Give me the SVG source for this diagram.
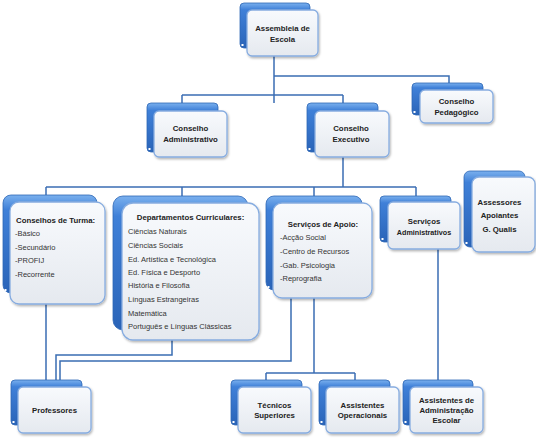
<svg xmlns="http://www.w3.org/2000/svg" width="536" height="439" viewBox="0 0 536 439">
<defs>
<linearGradient id="gBack" x1="0" y1="0" x2="0" y2="1">
<stop offset="0" stop-color="#7ab0ee"/>
<stop offset="0.15" stop-color="#3f80d8"/>
<stop offset="1" stop-color="#2a64b8"/>
</linearGradient>
<linearGradient id="gFront" x1="0" y1="0" x2="0" y2="1">
<stop offset="0" stop-color="#f8fafd"/>
<stop offset="1" stop-color="#e5e9ef"/>
</linearGradient>
<filter id="sh" x="-10%" y="-10%" width="125%" height="130%">
<feDropShadow dx="1" dy="1.5" stdDeviation="1.2" flood-color="#000" flood-opacity="0.3"/>
</filter>
</defs>
<style>
.back{fill:url(#gBack);stroke:#2f67b5;stroke-width:0.8}
.front{fill:url(#gFront);stroke:#86ace0;stroke-width:1.3;filter:url(#sh)}
.dot{fill:#fff}
.t{font-family:"Liberation Sans",Arial,sans-serif;font-size:7.8px;font-weight:bold;fill:#222;text-anchor:middle}
.i{font-family:"Liberation Sans",Arial,sans-serif;font-size:7.5px;fill:#333}
.b{font-family:"Liberation Sans",Arial,sans-serif;font-size:7.8px;font-weight:bold;fill:#222}
.c{fill:none;stroke:#3a6db3;stroke-width:1.5}
</style>
<rect width="536" height="439" fill="#fff"/>
<g id="connectors" class="c">
<path d="M274,56 V103"/>
<path d="M274,76 H449 V84"/>
<path d="M182,95 H343"/>
<path d="M182,95 V103"/>
<path d="M343,95 V103"/>
<path d="M343,150 V187"/>
<path d="M46,187 H416"/>
<path d="M46,187 V196"/>
<path d="M182,187 V196"/>
<path d="M314,187 V196"/>
<path d="M416,187 V196"/>
<path d="M46,300 V380"/>
<path d="M172,335 V355 H56 V380"/>
<path d="M291,295 V361 H60 V380"/>
<path d="M314,295 V373"/>
<path d="M266,373 H355"/>
<path d="M266,373 V380"/>
<path d="M355,373 V380"/>
<path d="M438,245 V380"/>
</g>
<g id="assembleia">
<rect class="back" x="240" y="3" width="70" height="45" rx="4"/>
<rect class="dot" x="241.5" y="44" width="2" height="2"/>
<rect class="front" x="247" y="10" width="71" height="46" rx="5"/>
<text class="t" x="282.5" y="31">Assembleia de</text>
<text class="t" x="282.5" y="42">Escola</text>
</g>
<g id="conselho-pedagogico">
<rect class="back" x="412" y="83" width="71" height="32" rx="4"/>
<rect class="dot" x="413.5" y="111" width="2" height="2"/>
<rect class="front" x="420" y="90" width="73" height="33" rx="5"/>
<text class="t" x="456.5" y="104">Conselho</text>
<text class="t" x="456.5" y="115">Pedagógico</text>
</g>
<g id="conselho-administrativo">
<rect class="back" x="147" y="103" width="71" height="49" rx="4"/>
<rect class="dot" x="148.5" y="148" width="2" height="2"/>
<rect class="front" x="154" y="111" width="73" height="46" rx="5"/>
<text class="t" x="190.5" y="131">Conselho</text>
<text class="t" x="190.5" y="142">Administrativo</text>
</g>
<g id="conselho-executivo">
<rect class="back" x="307" y="103" width="71" height="49" rx="4"/>
<rect class="dot" x="308.5" y="148" width="2" height="2"/>
<rect class="front" x="315" y="111" width="74" height="46" rx="5"/>
<text class="t" x="351" y="131">Conselho</text>
<text class="t" x="351" y="142">Executivo</text>
</g>
<g id="conselhos-turma">
<rect class="back" x="3" y="195" width="94" height="98" rx="8"/>
<rect class="dot" x="4.5" y="289" width="2" height="2"/>
<rect class="front" x="10" y="202" width="95" height="102" rx="9"/>
<text class="b" x="16" y="223">Conselhos de Turma:</text>
<text class="i" x="15" y="236">-Básico</text>
<text class="i" x="15" y="250">-Secundário</text>
<text class="i" x="15" y="263">-PROFIJ</text>
<text class="i" x="15" y="277">-Recorrente</text>
</g>
<g id="departamentos">
<rect class="back" x="113" y="196" width="135" height="134" rx="10"/>
<rect class="front" x="122" y="203" width="137" height="137" rx="11"/>
<text class="b" x="190.5" y="220" text-anchor="middle">Departamentos Curriculares:</text>
<text class="i" x="128" y="234">Ciências Naturais</text>
<text class="i" x="128" y="248">Ciências Sociais</text>
<text class="i" x="128" y="262">Ed. Artística e Tecnológica</text>
<text class="i" x="128" y="275">Ed. Física e Desporto</text>
<text class="i" x="128" y="288">História e Filosofia</text>
<text class="i" x="128" y="302">Línguas Estrangeiras</text>
<text class="i" x="128" y="316">Matemática</text>
<text class="i" x="128" y="329">Português e Línguas Clássicas</text>
</g>
<g id="servicos-apoio">
<rect class="back" x="266" y="196" width="96" height="94" rx="8"/>
<rect class="dot" x="267.5" y="286" width="2" height="2"/>
<rect class="front" x="273" y="203" width="99" height="95" rx="9"/>
<text class="b" x="323" y="227" text-anchor="middle">Serviços de Apoio:</text>
<text class="i" x="280" y="240">-Acção Social</text>
<text class="i" x="280" y="254">-Centro de Recursos</text>
<text class="i" x="280" y="268">-Gab. Psicologia</text>
<text class="i" x="280" y="281">-Reprografia</text>
</g>
<g id="servicos-administrativos">
<rect class="back" x="380" y="196" width="71" height="46" rx="4"/>
<rect class="dot" x="381.5" y="238" width="2" height="2"/>
<rect class="front" x="388" y="202" width="72" height="47" rx="5"/>
<text class="t" x="424" y="224">Serviços</text>
<text class="t" x="424" y="235" style="font-size:7.2px">Administrativos</text>
</g>
<g id="assessores">
<rect class="back" x="464" y="171" width="61" height="76" rx="6"/>
<rect class="dot" x="465.5" y="242" width="2" height="2"/>
<rect class="front" x="472" y="177" width="63" height="75" rx="7"/>
<text class="t" x="499.5" y="205">Assessores</text>
<text class="t" x="499.5" y="218">Apoiantes</text>
<text class="t" x="499.5" y="232">G. Qualis</text>
</g>
<g id="professores">
<rect class="back" x="11" y="380" width="71" height="45" rx="4"/>
<rect class="dot" x="12.5" y="421" width="2" height="2"/>
<rect class="front" x="18" y="387" width="73" height="46" rx="5"/>
<text class="t" x="54.5" y="413">Professores</text>
</g>
<g id="tecnicos-superiores">
<rect class="back" x="231" y="380" width="71" height="45" rx="4"/>
<rect class="dot" x="232.5" y="421" width="2" height="2"/>
<rect class="front" x="238" y="387" width="73" height="46" rx="5"/>
<text class="t" x="274.5" y="408">Técnicos</text>
<text class="t" x="274.5" y="418">Superiores</text>
</g>
<g id="assistentes-operacionais">
<rect class="back" x="319" y="380" width="71" height="45" rx="4"/>
<rect class="dot" x="320.5" y="421" width="2" height="2"/>
<rect class="front" x="326" y="387" width="73" height="46" rx="5"/>
<text class="t" x="362.5" y="408">Assistentes</text>
<text class="t" x="362.5" y="418">Operacionais</text>
</g>
<g id="assistentes-administracao">
<rect class="back" x="403" y="380" width="70" height="45" rx="4"/>
<rect class="dot" x="404.5" y="421" width="2" height="2"/>
<rect class="front" x="410" y="387" width="73" height="46" rx="5"/>
<text class="t" x="446.5" y="403">Assistentes de</text>
<text class="t" x="446.5" y="413">Administração</text>
<text class="t" x="446.5" y="423">Escolar</text>
</g>
</svg>
